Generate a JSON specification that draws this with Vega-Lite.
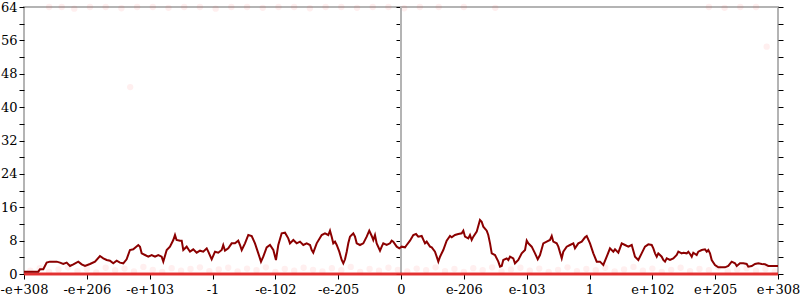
{
  "$schema": "https://vega.github.io/schema/vega-lite/v6.json",
  "width": 754,
  "height": 267,
  "autosize": {"type": "none"},
  "padding": {"left": 24, "top": 7, "right": 22, "bottom": 26},
  "background": "white",
  "view": {"stroke": "#b4b4b4", "strokeWidth": 2},
  "config": {
    "axis": {"labelFont": "DejaVu Serif", "labelFontSize": 13, "labelColor": "#000", "tickColor": "#000", "tickWidth": 1, "domain": false, "grid": false, "labelFlush": false, "labelOverlap": false}
  },
  "datasets": {
    "main": [
      {"x":-6.000,"y":0.56},{"x":-5.773,"y":0.56},{"x":-5.746,"y":1.12},{"x":-5.693,"y":1.12},{"x":-5.639,"y":2.72},{"x":-5.587,"y":2.96},{"x":-5.480,"y":2.96},{"x":-5.427,"y":2.72},{"x":-5.375,"y":2.40},{"x":-5.321,"y":2.72},{"x":-5.268,"y":1.92},{"x":-5.215,"y":2.32},{"x":-5.136,"y":2.96},{"x":-5.082,"y":2.32},{"x":-5.029,"y":1.92},{"x":-4.950,"y":2.40},{"x":-4.870,"y":2.96},{"x":-4.791,"y":4.31},{"x":-4.738,"y":3.76},{"x":-4.684,"y":3.36},{"x":-4.632,"y":3.20},{"x":-4.579,"y":2.56},{"x":-4.525,"y":3.20},{"x":-4.473,"y":2.72},{"x":-4.420,"y":2.56},{"x":-4.367,"y":3.52},{"x":-4.314,"y":5.75},{"x":-4.261,"y":5.91},{"x":-4.181,"y":6.95},{"x":-4.154,"y":6.55},{"x":-4.127,"y":4.95},{"x":-4.074,"y":4.55},{"x":-4.022,"y":4.15},{"x":-3.968,"y":4.55},{"x":-3.915,"y":4.15},{"x":-3.863,"y":4.55},{"x":-3.809,"y":4.15},{"x":-3.783,"y":2.96},{"x":-3.729,"y":5.75},{"x":-3.677,"y":6.55},{"x":-3.624,"y":8.15},{"x":-3.597,"y":9.35},{"x":-3.572,"y":8.15},{"x":-3.517,"y":7.99},
      {"x":-3.490,"y":7.99},{"x":-3.465,"y":5.75},{"x":-3.411,"y":6.55},{"x":-3.358,"y":5.35},{"x":-3.306,"y":5.91},{"x":-3.252,"y":5.11},{"x":-3.199,"y":5.59},{"x":-3.147,"y":5.35},{"x":-3.092,"y":6.15},{"x":-3.067,"y":5.35},{"x":-3.013,"y":3.52},{"x":-2.960,"y":5.35},{"x":-2.908,"y":5.11},{"x":-2.854,"y":5.75},{"x":-2.829,"y":6.95},{"x":-2.801,"y":5.59},{"x":-2.749,"y":6.15},{"x":-2.695,"y":7.35},{"x":-2.642,"y":7.35},{"x":-2.590,"y":7.99},{"x":-2.562,"y":6.95},{"x":-2.535,"y":5.75},{"x":-2.483,"y":7.35},{"x":-2.430,"y":9.35},{"x":-2.376,"y":9.11},{"x":-2.324,"y":7.35},{"x":-2.271,"y":4.95},{"x":-2.228,"y":2.96},{"x":-2.192,"y":4.15},{"x":-2.138,"y":6.39},{"x":-2.085,"y":6.95},{"x":-2.032,"y":5.75},{"x":-1.990,"y":3.36},{"x":-1.953,"y":6.95},{"x":-1.899,"y":9.75},{"x":-1.846,"y":9.91},{"x":-1.794,"y":8.55},{"x":-1.767,"y":7.35},{"x":-1.714,"y":8.15},{"x":-1.660,"y":7.35},{"x":-1.608,"y":7.75},{"x":-1.555,"y":6.95},{"x":-1.501,"y":7.35},{"x":-1.448,"y":6.95},{"x":-1.421,"y":5.75},{"x":-1.396,"y":5.11},{"x":-1.342,"y":7.35},{"x":-1.262,"y":9.35},{"x":-1.210,"y":9.75},{"x":-1.157,"y":9.35},{"x":-1.130,"y":10.39},{"x":-1.103,"y":8.95},{"x":-1.078,"y":7.35},{"x":-1.050,"y":7.75},
      {"x":-1.023,"y":6.95},{"x":-0.982,"y":5.35},{"x":-0.944,"y":3.36},{"x":-0.918,"y":2.56},{"x":-0.891,"y":3.52},{"x":-0.864,"y":5.35},{"x":-0.839,"y":7.35},{"x":-0.812,"y":8.95},{"x":-0.785,"y":9.35},{"x":-0.759,"y":9.75},{"x":-0.732,"y":8.95},{"x":-0.705,"y":7.35},{"x":-0.653,"y":6.95},{"x":-0.600,"y":7.35},{"x":-0.546,"y":8.95},{"x":-0.505,"y":10.39},{"x":-0.466,"y":9.11},{"x":-0.441,"y":8.15},{"x":-0.414,"y":9.35},{"x":-0.387,"y":7.35},{"x":-0.334,"y":5.59},{"x":-0.307,"y":6.55},{"x":-0.282,"y":7.35},{"x":-0.228,"y":6.95},{"x":-0.175,"y":7.35},{"x":-0.148,"y":7.99},{"x":-0.123,"y":7.75},{"x":-0.068,"y":6.55},{"x":-0.027,"y":6.15},{"x":0.011,"y":6.55},{"x":0.064,"y":6.39},{"x":0.091,"y":6.95},{"x":0.143,"y":7.99},{"x":0.196,"y":9.35},{"x":0.239,"y":9.59},{"x":0.275,"y":8.95},{"x":0.329,"y":9.11},{"x":0.382,"y":7.35},{"x":0.409,"y":7.75},{"x":0.462,"y":6.55},{"x":0.489,"y":6.39},{"x":0.541,"y":5.35},{"x":0.568,"y":4.15},{"x":0.594,"y":2.96},{"x":0.621,"y":4.15},{"x":0.673,"y":5.75},{"x":0.727,"y":7.99},{"x":0.780,"y":9.11},{"x":0.807,"y":8.79},{"x":0.859,"y":9.35},{"x":0.912,"y":9.59},{"x":0.966,"y":9.75},{"x":0.992,"y":10.39},{"x":1.019,"y":8.95},{"x":1.071,"y":8.55},{"x":1.098,"y":9.35},{"x":1.125,"y":8.15},{"x":1.151,"y":8.95},{"x":1.205,"y":10.15},{"x":1.257,"y":12.94},{"x":1.284,"y":12.54},{"x":1.310,"y":11.35},{"x":1.364,"y":10.39},
      {"x":1.389,"y":9.35},{"x":1.417,"y":7.35},{"x":1.444,"y":4.95},{"x":1.496,"y":4.55},{"x":1.549,"y":2.96},{"x":1.576,"y":1.76},{"x":1.603,"y":1.92},{"x":1.628,"y":3.36},{"x":1.682,"y":3.75},{"x":1.708,"y":3.36},{"x":1.735,"y":4.15},{"x":1.787,"y":3.75},{"x":1.814,"y":2.56},{"x":1.867,"y":3.36},{"x":1.921,"y":4.95},{"x":1.974,"y":5.75},{"x":2.001,"y":7.99},{"x":2.026,"y":7.35},{"x":2.080,"y":6.55},{"x":2.133,"y":4.95},{"x":2.176,"y":3.52},{"x":2.212,"y":4.55},{"x":2.265,"y":7.35},{"x":2.319,"y":7.75},{"x":2.371,"y":8.15},{"x":2.399,"y":9.11},{"x":2.424,"y":7.75},{"x":2.478,"y":7.35},{"x":2.504,"y":6.55},{"x":2.558,"y":3.75},{"x":2.583,"y":5.35},{"x":2.637,"y":6.55},{"x":2.690,"y":6.95},{"x":2.743,"y":7.35},{"x":2.769,"y":6.15},{"x":2.822,"y":7.35},{"x":2.876,"y":7.75},{"x":2.929,"y":8.79},{"x":2.956,"y":9.11},{"x":3.008,"y":7.35},{"x":3.061,"y":4.95},{"x":3.115,"y":2.96},{"x":3.167,"y":2.96},{"x":3.220,"y":2.16},{"x":3.274,"y":4.15},{"x":3.326,"y":6.15},{"x":3.379,"y":5.35},{"x":3.406,"y":5.91},{"x":3.459,"y":5.11},{"x":3.513,"y":7.35},{"x":3.565,"y":6.95},{"x":3.618,"y":6.55},{"x":3.672,"y":6.95},{"x":3.724,"y":4.15},{"x":3.777,"y":3.36},{"x":3.830,"y":4.95},{"x":3.883,"y":6.55},
      {"x":3.936,"y":7.11},{"x":3.990,"y":6.95},{"x":4.016,"y":6.15},{"x":4.043,"y":4.95},{"x":4.070,"y":4.15},{"x":4.095,"y":4.95},{"x":4.122,"y":4.55},{"x":4.149,"y":4.15},{"x":4.175,"y":3.36},{"x":4.202,"y":2.96},{"x":4.229,"y":3.75},{"x":4.281,"y":3.36},{"x":4.334,"y":3.75},{"x":4.388,"y":4.55},{"x":4.414,"y":5.35},{"x":4.468,"y":4.95},{"x":4.493,"y":5.11},{"x":4.547,"y":4.95},{"x":4.573,"y":5.35},{"x":4.600,"y":4.79},{"x":4.627,"y":4.15},{"x":4.652,"y":5.11},{"x":4.706,"y":4.55},{"x":4.732,"y":5.35},{"x":4.786,"y":5.75},{"x":4.838,"y":5.91},{"x":4.866,"y":5.35},{"x":4.891,"y":5.75},{"x":4.918,"y":4.95},{"x":4.945,"y":3.36},{"x":4.997,"y":2.16},{"x":5.050,"y":1.60},{"x":5.157,"y":1.60},{"x":5.209,"y":1.92},{"x":5.263,"y":2.96},{"x":5.316,"y":2.56},{"x":5.343,"y":1.92},{"x":5.395,"y":2.56},{"x":5.448,"y":2.56},{"x":5.502,"y":2.40},{"x":5.527,"y":1.76},{"x":5.582,"y":1.92},{"x":5.634,"y":2.40},{"x":5.687,"y":2.56},{"x":5.741,"y":2.40},{"x":5.793,"y":2.32},{"x":5.846,"y":1.92},{"x":5.926,"y":1.92},{"x":6.000,"y":1.92}
    ],
    "faint": [
      {"x":-5.9,"y":0.8},{"x":-5.75,"y":1.4},{"x":-5.6,"y":0.5},{"x":-5.45,"y":1.1},{"x":-5.3,"y":1.6},{"x":-5.15,"y":0.7},{"x":-5.0,"y":1.2},{"x":-4.85,"y":0.4},{"x":-4.7,"y":1.5},{"x":-4.55,"y":0.9},{"x":-4.4,"y":1.3},{"x":-4.25,"y":0.6},{"x":-4.1,"y":1.7},{"x":-3.95,"y":1.0},{"x":-3.8,"y":0.5},{"x":-3.65,"y":1.4},{"x":-3.5,"y":0.8},{"x":-3.35,"y":1.2},{"x":-3.2,"y":1.6},{"x":-3.05,"y":0.7},{"x":-2.9,"y":1.1},{"x":-2.75,"y":1.5},{"x":-2.6,"y":0.6},{"x":-2.45,"y":1.3},{"x":-2.3,"y":0.9},{"x":-2.15,"y":1.6},{"x":-2.0,"y":0.5},{"x":-1.85,"y":1.2},{"x":-1.7,"y":0.8},{"x":-1.55,"y":1.5},{"x":-1.4,"y":1.0},{"x":-1.25,"y":0.6},{"x":-1.1,"y":1.4},{"x":-0.95,"y":0.9},{"x":-0.8,"y":1.7},{"x":-0.65,"y":0.5},{"x":-0.5,"y":1.2},{"x":-0.35,"y":0.8},{"x":-0.2,"y":1.5},{"x":-0.05,"y":1.0},{"x":0.1,"y":0.6},{"x":0.25,"y":1.3},{"x":0.4,"y":0.9},{"x":0.55,"y":1.6},{"x":0.7,"y":0.7},{"x":0.85,"y":1.2},{"x":1.0,"y":0.5},{"x":1.15,"y":1.4},{"x":1.3,"y":0.9},{"x":1.45,"y":1.6},{"x":1.6,"y":0.6},{"x":1.75,"y":1.1},{"x":1.9,"y":1.5},{"x":2.05,"y":0.8},{"x":2.2,"y":1.3},{"x":2.35,"y":0.5},{"x":2.5,"y":1.0},{"x":2.65,"y":1.6},{"x":2.8,"y":0.7},{"x":2.95,"y":1.2},{"x":3.1,"y":0.9},{"x":3.25,"y":1.5},{"x":3.4,"y":0.6},{"x":3.55,"y":1.1},{"x":3.7,"y":1.7},{"x":3.85,"y":0.8},{"x":4.0,"y":1.3},{"x":4.15,"y":0.5},{"x":4.3,"y":1.0},{"x":4.45,"y":1.5},{"x":4.6,"y":0.7},{"x":4.75,"y":1.2},{"x":4.9,"y":0.9},{"x":5.05,"y":1.6},{"x":5.2,"y":0.6},{"x":5.35,"y":1.1},{"x":5.5,"y":1.4},{"x":5.65,"y":0.8},{"x":5.8,"y":1.2},{"x":5.95,"y":0.6},
      {"x":-5.6,"y":64},{"x":-5.4,"y":64},{"x":-5.2,"y":63.6},{"x":-4.95,"y":64},{"x":-4.7,"y":64},{"x":-4.45,"y":63.7},{"x":-4.2,"y":64},{"x":-3.95,"y":64},{"x":-3.7,"y":63.8},{"x":-3.45,"y":64},{"x":-3.2,"y":64},{"x":-2.95,"y":63.6},{"x":-2.7,"y":64},{"x":-2.45,"y":64},{"x":-2.2,"y":63.8},{"x":-1.95,"y":64},{"x":-1.7,"y":64},{"x":-1.45,"y":63.7},{"x":-1.2,"y":64},{"x":-0.95,"y":64},{"x":-0.7,"y":63.8},{"x":-0.45,"y":64},{"x":-0.2,"y":64},{"x":0.05,"y":63.7},{"x":0.3,"y":64},{"x":0.6,"y":64},{"x":1.0,"y":64},{"x":1.5,"y":63.8},{"x":4.9,"y":64},{"x":5.15,"y":63.8},{"x":5.4,"y":64},{"x":5.65,"y":64},
      {"x":-4.31,"y":44.8},{"x":5.82,"y":54.5}
    ],
    "zero": [{"x":-6,"y":0},{"x":6,"y":0}],
    "center": [{"x":0,"y":0,"y2":64}]
  },
  "resolve": {"axis": {"y": "independent"}},
  "layer": [
    {
      "data": {"name": "faint"},
      "mark": {"type": "circle", "color": "#ff2020", "opacity": 0.07, "size": 40},
      "encoding": {
        "x": {"field": "x", "type": "quantitative", "scale": {"domain": [-6, 6], "nice": false, "zero": false},
          "axis": {"orient": "bottom", "title": null, "domain": false, "values": [-6,-5,-4,-3,-2,-1,0,1,2,3,4,5,6], "tickSize": 5, "labelPadding": 4,
            "labelExpr": "datum.value == -6 ? '-e+308' : datum.value == -5 ? '-e+206' : datum.value == -4 ? '-e+103' : datum.value == -3 ? '-1' : datum.value == -2 ? '-e-102' : datum.value == -1 ? '-e-205' : datum.value == 0 ? '0' : datum.value == 1 ? 'e-206' : datum.value == 2 ? 'e-103' : datum.value == 3 ? '1' : datum.value == 4 ? 'e+102' : datum.value == 5 ? 'e+205' : 'e+308'",
            "encode": {"ticks": {"update": {"y": {"value": -5}, "y2": {"value": 5}}}}}},
        "y": {"field": "y", "type": "quantitative", "scale": {"domain": [0, 64], "nice": false, "zero": false},
          "axis": {"orient": "left", "title": null, "domain": false, "values": [0,4,8,12,16,20,24,28,32,36,40,44,48,52,56,60,64], "tickSize": 5, "labelPadding": 2,
            "labelExpr": "datum.value % 8 == 0 ? datum.label : ''",
            "encode": {"ticks": {"update": {
              "x": [{"test": "datum.value % 8 == 0", "value": 5.5}, {"value": 2.5}],
              "x2": [{"test": "datum.value % 8 == 0", "value": -5.5}, {"value": -2.5}],
              "stroke": [{"test": "datum.value % 8 == 0", "value": "#000"}, {"value": "#888"}]}}}}}
      }
    },
    {
      "data": {"name": "center"},
      "mark": {"type": "rule", "color": "#b4b4b4", "strokeWidth": 2},
      "encoding": {
        "x": {"field": "x", "type": "quantitative", "scale": {"domain": [-6, 6], "nice": false, "zero": false},
          "axis": {"orient": "bottom", "title": null, "domain": false, "values": [-6,-5,-4,-3,-2,-1,0,1,2,3,4,5,6], "tickSize": 5, "labelPadding": 4,
            "labelExpr": "datum.value == -6 ? '-e+308' : datum.value == -5 ? '-e+206' : datum.value == -4 ? '-e+103' : datum.value == -3 ? '-1' : datum.value == -2 ? '-e-102' : datum.value == -1 ? '-e-205' : datum.value == 0 ? '0' : datum.value == 1 ? 'e-206' : datum.value == 2 ? 'e-103' : datum.value == 3 ? '1' : datum.value == 4 ? 'e+102' : datum.value == 5 ? 'e+205' : 'e+308'",
            "encode": {"ticks": {"update": {"y": {"value": -5}, "y2": {"value": 5}}}}}},
        "y": {"field": "y", "type": "quantitative", "scale": {"domain": [0, 64], "nice": false, "zero": false},
          "axis": {"orient": "left", "offset": -377, "title": null, "domain": false, "labels": false, "values": [0,4,8,12,16,20,24,28,32,36,40,44,48,52,56,60,64],
            "encode": {"ticks": {"update": {
              "x": [{"test": "datum.value % 8 == 0", "value": 5.5}, {"value": 2.5}],
              "x2": [{"test": "datum.value % 8 == 0", "value": -5.5}, {"value": -2.5}],
              "stroke": [{"test": "datum.value % 8 == 0", "value": "#000"}, {"value": "#888"}]}}}}},
        "y2": {"field": "y2"}
      }
    },
    {
      "data": {"name": "zero"},
      "mark": {"type": "line", "color": "#e52222", "strokeWidth": 3, "opacity": 0.9},
      "encoding": {
        "x": {"field": "x", "type": "quantitative", "scale": {"domain": [-6, 6], "nice": false, "zero": false},
          "axis": {"orient": "bottom", "title": null, "domain": false, "values": [-6,-5,-4,-3,-2,-1,0,1,2,3,4,5,6], "tickSize": 5, "labelPadding": 4,
            "labelExpr": "datum.value == -6 ? '-e+308' : datum.value == -5 ? '-e+206' : datum.value == -4 ? '-e+103' : datum.value == -3 ? '-1' : datum.value == -2 ? '-e-102' : datum.value == -1 ? '-e-205' : datum.value == 0 ? '0' : datum.value == 1 ? 'e-206' : datum.value == 2 ? 'e-103' : datum.value == 3 ? '1' : datum.value == 4 ? 'e+102' : datum.value == 5 ? 'e+205' : 'e+308'",
            "encode": {"ticks": {"update": {"y": {"value": -5}, "y2": {"value": 5}}}}}},
        "y": {"field": "y", "type": "quantitative", "scale": {"domain": [0, 64], "nice": false, "zero": false}, "axis": null}
      }
    },
    {
      "data": {"name": "main"},
      "mark": {"type": "line", "color": "#8b0000", "strokeWidth": 2},
      "encoding": {
        "x": {"field": "x", "type": "quantitative", "scale": {"domain": [-6, 6], "nice": false, "zero": false},
          "axis": {"orient": "bottom", "title": null, "domain": false, "values": [-6,-5,-4,-3,-2,-1,0,1,2,3,4,5,6], "tickSize": 5, "labelPadding": 4,
            "labelExpr": "datum.value == -6 ? '-e+308' : datum.value == -5 ? '-e+206' : datum.value == -4 ? '-e+103' : datum.value == -3 ? '-1' : datum.value == -2 ? '-e-102' : datum.value == -1 ? '-e-205' : datum.value == 0 ? '0' : datum.value == 1 ? 'e-206' : datum.value == 2 ? 'e-103' : datum.value == 3 ? '1' : datum.value == 4 ? 'e+102' : datum.value == 5 ? 'e+205' : 'e+308'",
            "encode": {"ticks": {"update": {"y": {"value": -5}, "y2": {"value": 5}}}}}},
        "y": {"field": "y", "type": "quantitative", "scale": {"domain": [0, 64], "nice": false, "zero": false},
          "axis": {"orient": "right", "title": null, "domain": false, "labels": false, "values": [0,4,8,12,16,20,24,28,32,36,40,44,48,52,56,60,64],
            "encode": {"ticks": {"update": {
              "x": [{"test": "datum.value % 8 == 0", "value": -5.5}, {"value": -2.5}],
              "x2": [{"test": "datum.value % 8 == 0", "value": 5.5}, {"value": 2.5}],
              "stroke": [{"test": "datum.value % 8 == 0", "value": "#000"}, {"value": "#888"}]}}}}}
      }
    }
  ]
}
